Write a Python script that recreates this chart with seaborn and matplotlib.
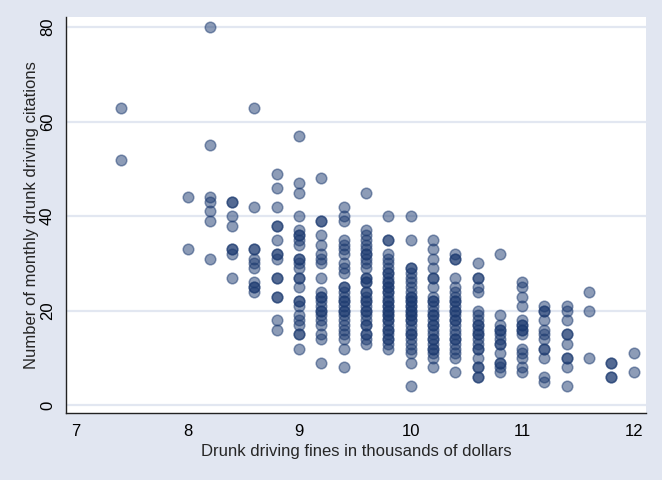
import matplotlib
matplotlib.use("Agg")
import matplotlib.pyplot as plt
import seaborn as sns
import pandas as pd

# Monthly drunk driving citations observed at each fine level (thousands of dollars)
fine_levels = [7.4, 8.0, 8.2, 8.4, 8.6, 8.8, 9.0, 9.2, 9.4, 9.6, 9.8,
               10.0, 10.2, 10.4, 10.6, 10.8, 11.0, 11.2, 11.4, 11.6, 11.8, 12.0]

cit_7_4 = [63, 52]
cit_8_0 = [44, 33]
cit_8_2 = [80, 55, 44, 43, 41, 39, 31]
cit_8_4 = [43, 43, 40, 38, 33, 33, 32, 27]
cit_8_6 = [63, 42, 33, 33, 31, 30, 29, 26, 25, 25, 24]
cit_8_8 = [49, 46, 42, 38, 38, 35, 32, 32, 31, 27, 27, 23, 23, 18, 16]
cit_9_0 = [57, 47, 45, 40, 37, 36, 36, 35, 34, 31, 31, 30, 29, 27, 27, 25,
           22, 22, 21, 19, 18, 17, 15, 15, 12]
cit_9_2 = [48, 39, 39, 36, 34, 32, 31, 30, 27, 24, 23, 23, 22, 21, 20, 20,
           19, 18, 17, 15, 14, 9]
cit_9_4 = [42, 40, 39, 35, 34, 33, 32, 30, 29, 28, 25, 25, 24, 23, 22, 22,
           21, 20, 20, 19, 18, 17, 16, 15, 14, 12, 8]
cit_9_6 = [45, 37, 36, 35, 34, 33, 32, 32, 31, 30, 29, 27, 27, 26, 26, 24,
           24, 23, 22, 22, 21, 20, 20, 19, 18, 17, 17, 15, 15, 14, 13]
cit_9_8 = [40, 35, 35, 32, 31, 30, 29, 28, 28, 27, 26, 26, 25, 25, 24, 24,
           23, 22, 22, 21, 21, 20, 20, 19, 19, 18, 18, 17, 16, 16, 15, 14,
           14, 13, 12]
cit_10_0 = [40, 35, 29, 29, 28, 27, 26, 25, 24, 23, 23, 22, 22, 21, 21, 20,
            20, 19, 19, 18, 18, 17, 16, 15, 15, 14, 13, 12, 11, 9, 4]
cit_10_2 = [35, 33, 31, 29, 27, 27, 25, 23, 22, 22, 21, 20, 19, 19, 18, 17,
            17, 16, 15, 14, 14, 13, 12, 12, 11, 10, 8]
cit_10_4 = [32, 31, 31, 27, 25, 24, 23, 22, 22, 21, 20, 20, 19, 18, 18, 17,
            16, 15, 14, 14, 13, 12, 11, 10, 7]
cit_10_6 = [30, 27, 27, 25, 24, 20, 19, 18, 17, 17, 16, 15, 15, 14, 13, 12,
            12, 10, 8, 8, 6, 6]
cit_10_8 = [32, 19, 17, 16, 16, 15, 14, 13, 13, 11, 9, 9, 8, 7]
cit_11_0 = [26, 25, 23, 21, 18, 17, 17, 16, 16, 15, 12, 11, 10, 8, 7]
cit_11_2 = [21, 20, 20, 18, 16, 15, 14, 12, 12, 10, 6, 5]
cit_11_4 = [21, 20, 18, 15, 15, 13, 10, 10, 8, 4]
cit_11_6 = [24, 20, 10]
cit_11_8 = [9, 9, 6, 6]
cit_12_0 = [11, 7]

citation_groups = [cit_7_4, cit_8_0, cit_8_2, cit_8_4, cit_8_6, cit_8_8,
                   cit_9_0, cit_9_2, cit_9_4, cit_9_6, cit_9_8, cit_10_0,
                   cit_10_2, cit_10_4, cit_10_6, cit_10_8, cit_11_0, cit_11_2,
                   cit_11_4, cit_11_6, cit_11_8, cit_12_0]

x_ticks = [7, 8, 9, 10, 11, 12]
y_ticks = [0, 20, 40, 60, 80]

rows = [(f, c) for f, group in zip(fine_levels, citation_groups) for c in group]
df = pd.DataFrame(rows, columns=["fines", "citations"])

bg = "#e1e6f1"
grid_col = "#e2e7f1"
navy = "#1c3a70"

sns.set_style("white")
plt.rcParams["font.family"] = ["Liberation Sans", "DejaVu Sans"]

fig = plt.figure(figsize=(6.62, 4.80), dpi=100, facecolor=bg)
ax = fig.add_axes([0.0997, 0.139, 0.876, 0.826])
ax.set_facecolor("white")

for yv in y_ticks:
    ax.axhline(yv, color=grid_col, lw=1.6, zorder=0)

sns.scatterplot(data=df, x="fines", y="citations", ax=ax, s=58,
                color=navy, alpha=0.5, edgecolor=navy, linewidth=1.1,
                zorder=3, legend=False)

ax.set_xlim(6.91, 12.11)
ax.set_ylim(-1.7, 82.2)
ax.set_xticks(x_ticks)
ax.set_yticks(y_ticks)
ax.set_xticklabels([str(t) for t in x_ticks], fontsize=12)
ax.set_yticklabels([str(t) for t in y_ticks], fontsize=12, rotation=90, va="center")

for side in ["top", "right"]:
    ax.spines[side].set_visible(False)
for side in ["left", "bottom"]:
    ax.spines[side].set_color("#222222")
    ax.spines[side].set_linewidth(1.0)

ax.tick_params(axis="both", direction="out", length=5, width=1.0,
               color="#222222", labelcolor="black", pad=3)

ax.set_xlabel("Drunk driving fines in thousands of dollars", fontsize=12, labelpad=3)
ax.set_ylabel("Number of monthly drunk driving citations", fontsize=12)
ax.yaxis.set_label_coords(-0.046, 0.5)

fig.savefig("out.png", dpi=100, facecolor=bg)
